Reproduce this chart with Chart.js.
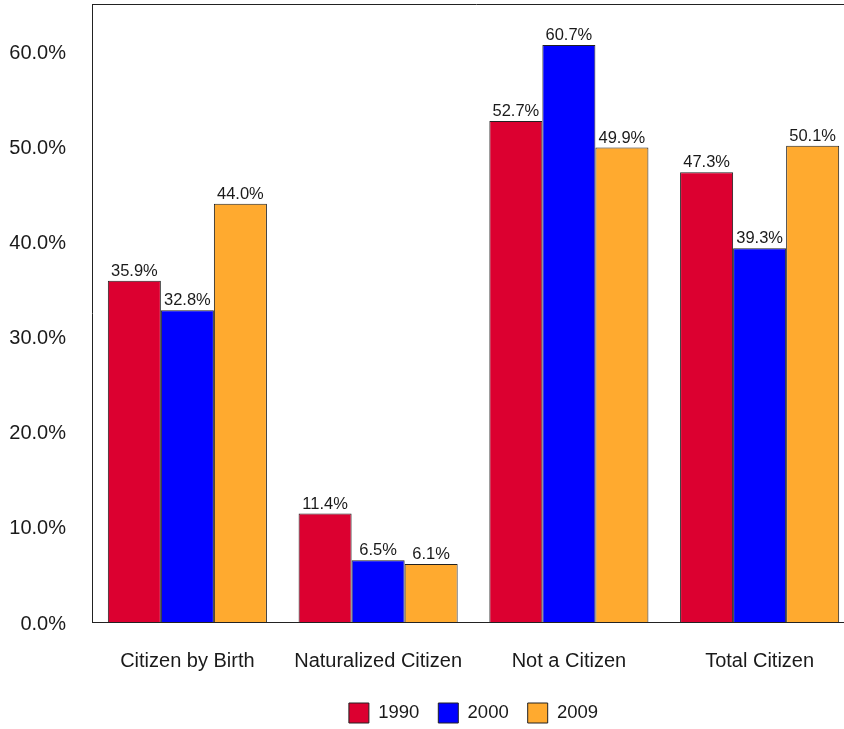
<!DOCTYPE html>
<html lang="en">
<head>
<meta charset="UTF-8">
<title>Citizenship</title>
<script src="https://cdn.jsdelivr.net/npm/chart.js"></script>
<style>
  html, body { margin: 0; padding: 0; background: #fff; overflow: hidden; }
  #wrap { width: 860px; height: 733px; }
</style>
</head>
<body>
<div id="wrap"><canvas id="chart" width="860" height="733"></canvas></div>
<script>
  // data
  const categories = ['Citizen by Birth', 'Naturalized Citizen', 'Not a Citizen', 'Total Citizen'];
  const years = ['1990', '2000', '2009'];
  const values1990 = [35.9, 11.4, 52.7, 47.3];
  const values2000 = [32.8, 6.5, 60.7, 39.3];
  const values2009 = [44.0, 6.1, 49.9, 50.1];
  const colors = ['#DC0030', '#0000FF', '#FFAA2F'];

  const FONT = '"Liberation Sans", Arial, sans-serif';
  const TEXT = '#1a1a1a';

  // little labels above every bar
  const barLabels = {
    id: 'barLabels',
    afterDatasetsDraw(chart) {
      const ctx = chart.ctx;
      ctx.save();
      ctx.font = '16.5px ' + FONT;
      ctx.fillStyle = TEXT;
      ctx.textAlign = 'center';
      ctx.textBaseline = 'alphabetic';
      chart.data.datasets.forEach(function (ds, i) {
        chart.getDatasetMeta(i).data.forEach(function (bar, j) {
          ctx.fillText(ds.data[j].toFixed(1) + '%', bar.x, bar.y - 5);
        });
      });
      ctx.restore();
    }
  };

  // top edge of the plot box + legend centred under the plot
  const frame = {
    id: 'frame',
    afterLayout(chart) {
      chart.legend.left = chart.chartArea.left;
      chart.legend.right = chart.chartArea.right;
    },
    afterDraw(chart) {
      const a = chart.chartArea;
      const ctx = chart.ctx;
      ctx.save();
      ctx.strokeStyle = '#222';
      ctx.lineWidth = 1;
      ctx.beginPath();
      ctx.moveTo(a.left, Math.round(a.top) + 0.5);
      ctx.lineTo(a.right + 10, Math.round(a.top) + 0.5);
      ctx.stroke();
      ctx.restore();
    }
  };

  const datasets = [values1990, values2000, values2009].map(function (vals, i) {
    return {
      label: years[i],
      data: vals,
      backgroundColor: colors[i],
      borderColor: '#222',
      borderWidth: 1,
      categoryPercentage: 0.834,
      barPercentage: 1.0
    };
  });

  new Chart(document.getElementById('chart'), {
    type: 'bar',
    data: { labels: categories, datasets: datasets },
    plugins: [barLabels, frame],
    options: {
      responsive: false,
      animation: false,
      layout: { padding: { top: 4, right: 5, left: 0, bottom: 0 } },
      plugins: {
        tooltip: { enabled: false },
        legend: {
          position: 'bottom',
          labels: {
            font: { family: FONT, size: 18.5 },
            color: TEXT,
            boxWidth: 20,
            boxHeight: 20,
            padding: 19
          }
        }
      },
      scales: {
        x: {
          afterFit: function (scale) {
            scale.height = 62;
            scale.paddingLeft = 0;
            scale.paddingRight = 0;
          },
          grid: { display: false, drawTicks: false },
          border: { display: true, color: '#222', width: 1 },
          ticks: {
            font: { family: FONT, size: 20 },
            color: TEXT,
            padding: 27,
            maxRotation: 0
          }
        },
        y: {
          min: 0,
          max: 65,
          afterFit: function (scale) {
            scale.width = 92;
            scale.paddingTop = 0;
            scale.paddingBottom = 0;
          },
          grid: { display: false, drawTicks: false },
          border: { display: true, color: '#222', width: 1 },
          ticks: {
            stepSize: 10,
            font: { family: FONT, size: 20 },
            color: TEXT,
            padding: 26,
            labelOffset: 2,
            callback: function (v) { return v % 10 === 0 ? v.toFixed(1) + '%' : ''; }
          }
        }
      }
    }
  });
</script>
</body>
</html>
